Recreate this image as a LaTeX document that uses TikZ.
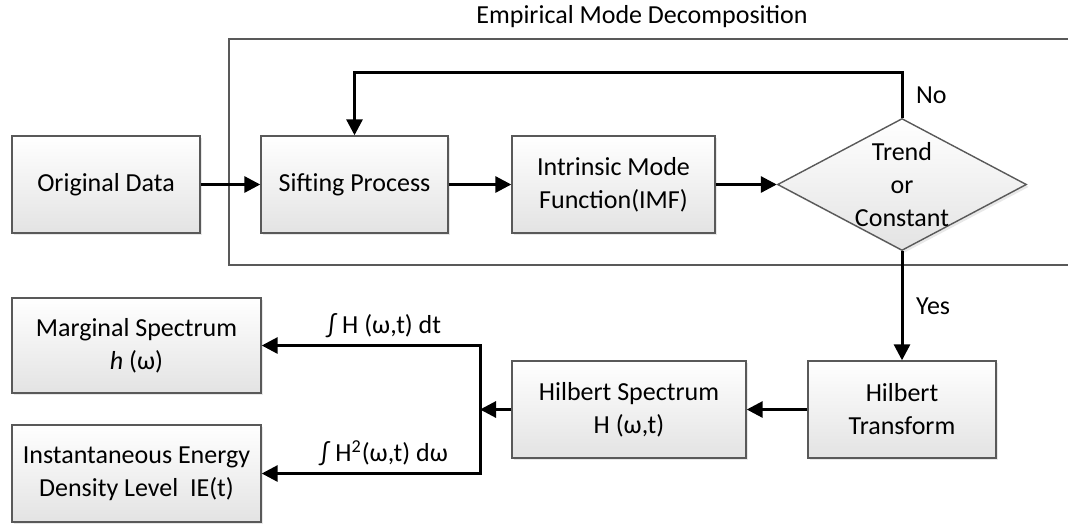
\documentclass[tikz,border=0pt]{standalone}
\usepackage{fontspec}
\setmainfont{Carlito}
\usetikzlibrary{arrows.meta,shapes.geometric,shadows}
\tikzset{
	box/.style={rectangle, draw=black!65, line width=0.7pt, top color=white, bottom color=black!11,
		minimum height=48.5pt, align=center,
		drop shadow={opacity=0.18, shadow xshift=1.2pt, shadow yshift=-1.2pt}},
	decision/.style={diamond, draw=black!65, line width=0.7pt, top color=white, bottom color=black!11,
		minimum width=124.5pt, minimum height=66pt, inner sep=0pt,
		drop shadow={opacity=0.18, shadow xshift=1.2pt, shadow yshift=-1.2pt}},
	flow/.style={draw=black, line width=1.5pt, -{Triangle[length=8pt,width=8pt]}},
	tag/.style={right, xshift=3pt}
}
\begin{document}
\begin{tikzpicture}[x=0.5pt, y=-0.5pt, font=\fontsize{13}{16.5}\selectfont]
	\useasboundingbox (0,0) rectangle (1068,525);

	% EMD frame
	\draw[black!65, line width=0.8pt] (229,39) rectangle (1080,265);
	\node (title) at (642,17) {Empirical Mode Decomposition};

	\node[box, minimum width=94pt]	(orig)	at (106,184.5)		{Original Data};
	\node[box, minimum width=93.5pt]	(sift)	at (354.5,184.5)	{Sifting Process};
	\node[box, minimum width=101.5pt]	(imf)	at (613.5,184.5)	{Intrinsic Mode\\Function(IMF)};
	\node[decision]				(dec)	at (902,184.5)		{};
	\node[align=center]			(dectext) at (902,184.5)	{Trend\\or\\Constant};

	\node[box, minimum width=94pt]	(ht)	at (902,409.5)		{Hilbert\\Transform};
	\node[box, minimum width=117pt]	(hs)	at (629,409.5)		{Hilbert Spectrum\\H (ω,t)};
	\node[box, minimum width=124.5pt, minimum height=47.5pt]
						(marg)	at (136.5,345.5)	{Marginal Spectrum\\\textit{h} (ω)};
	\node[box, minimum width=124.5pt]	(ie)	at (136.5,473.5)	{Instantaneous Energy\\Density Level\ \ IE(t)};

	% connectors
	\draw[flow] (orig) -- (sift);
	\draw[flow] (sift) -- (imf);
	\draw[flow] (imf) -- (dec);
	\draw[flow] (dec.north) -- node[tag] {No} ++(0,-45) -| (sift.north);
	\draw[flow] (dec.south) -- node[tag] {Yes} (ht.north);
	\draw[flow] (ht) -- (hs);

	\coordinate (split) at (480,409.5);
	\draw[flow] (hs) -- (split);
	\draw[flow] (split) |- node[pos=0.72, above] {∫ H (ω,t) dt} (marg.east);
	\draw[flow] (split) |- node[pos=0.72, above] {∫ H\textsuperscript{2}(ω,t) dω} (ie.east);
\end{tikzpicture}
\end{document}
